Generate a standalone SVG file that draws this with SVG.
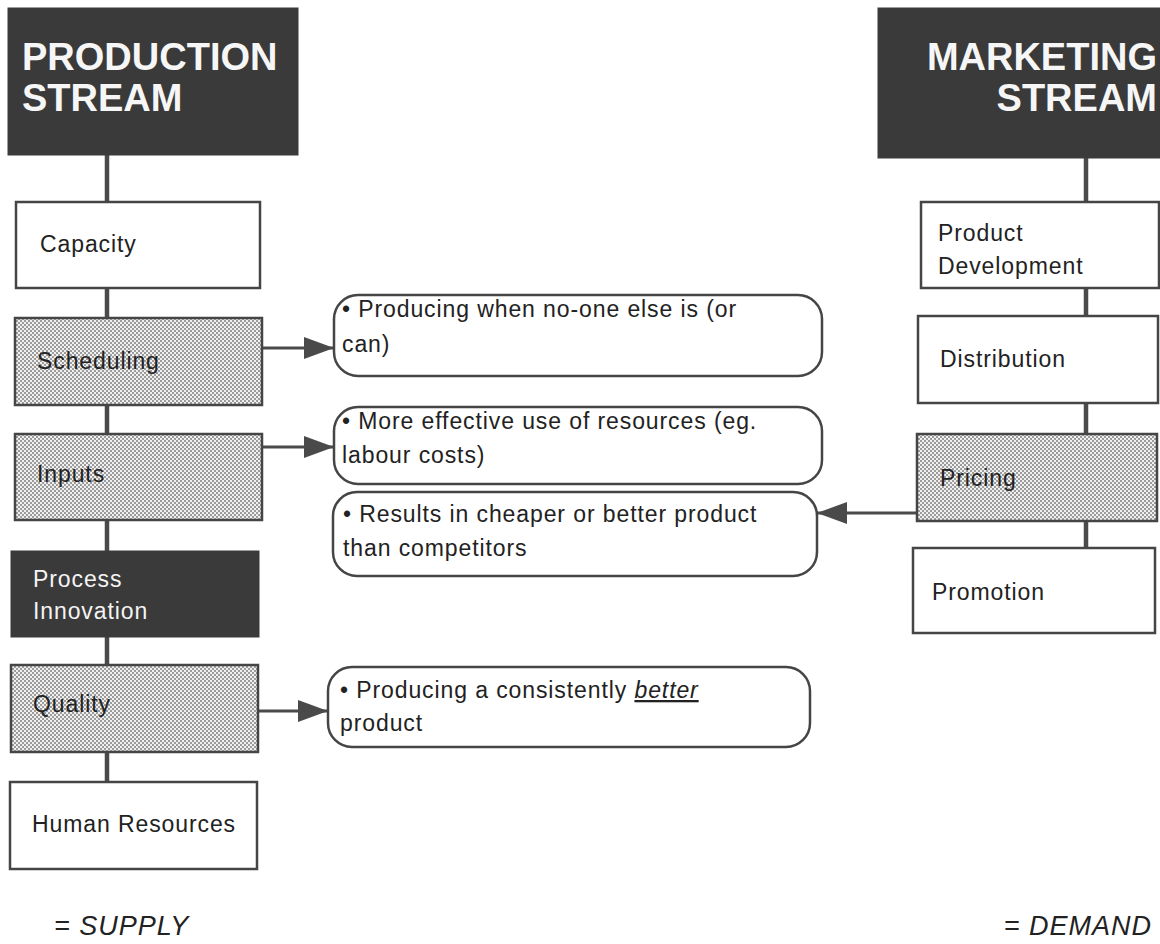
<svg xmlns="http://www.w3.org/2000/svg" width="1160" height="944" viewBox="0 0 1160 944">
  <style>
    .box { fill: #ffffff; stroke: #454545; stroke-width: 2.5; }
    .dot { fill: url(#dots); stroke: #454545; stroke-width: 2.5; }
    .dark { fill: #3a3a3a; stroke: #3a3a3a; stroke-width: 1; }
    .call { fill: #ffffff; stroke: #454545; stroke-width: 2.5; }
    .t { font-family: "Liberation Sans", Arial, Helvetica, sans-serif; font-size: 23px; letter-spacing: 0.9px; fill: #222222; }
    .tw { font-family: "Liberation Sans", Arial, Helvetica, sans-serif; font-size: 23px; letter-spacing: 0.9px; fill: #f4f4f4; }
    .head { font-family: "Liberation Sans", Arial, Helvetica, sans-serif; font-size: 38px; font-weight: bold; fill: #f6f6f6; }
    .stem { stroke: #4a4a4a; stroke-width: 4.5; fill: none; }
    .arr { stroke: #4a4a4a; stroke-width: 3; fill: none; marker-end: url(#ah); }
    .legend { font-family: "Liberation Sans", Arial, Helvetica, sans-serif; font-size: 27px; font-style: italic; letter-spacing: 1px; fill: #222222; }
  </style>
  <defs>
    <pattern id="dots" width="4" height="4" patternUnits="userSpaceOnUse">
      <rect width="4" height="4" fill="#f0f0f0"/>
      <rect x="0" y="0" width="2" height="2" fill="#9c9c9c"/>
      <rect x="2" y="2" width="2" height="2" fill="#9c9c9c"/>
    </pattern>
    <marker id="ah" viewBox="0 0 30 22" refX="30" refY="11" markerWidth="30" markerHeight="22" markerUnits="userSpaceOnUse" orient="auto">
      <path d="M0,0 L30,11 L0,22 Z" fill="#4a4a4a"/>
    </marker>
  </defs>

  <g id="connectors">
    <line class="stem" x1="107" y1="155" x2="107" y2="782"/>
    <line class="stem" x1="1086" y1="158" x2="1086" y2="548"/>
    <line class="arr" x1="262" y1="348" x2="334" y2="348"/>
    <line class="arr" x1="262" y1="447" x2="334" y2="447"/>
    <line class="arr" x1="917" y1="513" x2="817" y2="513"/>
    <line class="arr" x1="258" y1="711" x2="328" y2="711"/>
  </g>

  <g id="production-stream">
    <rect class="dark" x="8" y="8" width="290" height="147"/>
    <text class="head" x="22" y="70">PRODUCTION</text>
    <text class="head" x="22" y="111">STREAM</text>
  </g>
  <g id="capacity">
    <rect class="box" x="16" y="202" width="244" height="86"/>
    <text class="t" x="40" y="252">Capacity</text>
  </g>
  <g id="scheduling">
    <rect class="dot" x="15" y="318" width="247" height="87"/>
    <text class="t" x="37" y="369">Scheduling</text>
  </g>
  <g id="inputs">
    <rect class="dot" x="15" y="434" width="247" height="86"/>
    <text class="t" x="37" y="482">Inputs</text>
  </g>
  <g id="process-innovation">
    <rect class="dark" x="11" y="551" width="248" height="86"/>
    <text class="tw" x="33" y="587">Process</text>
    <text class="tw" x="33" y="619">Innovation</text>
  </g>
  <g id="quality">
    <rect class="dot" x="11" y="665" width="247" height="87"/>
    <text class="t" x="33" y="712">Quality</text>
  </g>
  <g id="human-resources">
    <rect class="box" x="10" y="782" width="247" height="87"/>
    <text class="t" x="32" y="832">Human Resources</text>
  </g>

  <g id="marketing-stream">
    <rect class="dark" x="878" y="8" width="290" height="150"/>
    <text class="head" x="1157" y="70" text-anchor="end">MARKETING</text>
    <text class="head" x="1157" y="111" text-anchor="end">STREAM</text>
  </g>
  <g id="product-development">
    <rect class="box" x="921" y="202" width="238" height="86"/>
    <text class="t" x="938" y="241">Product</text>
    <text class="t" x="938" y="274">Development</text>
  </g>
  <g id="distribution">
    <rect class="box" x="918" y="316" width="240" height="87"/>
    <text class="t" x="940" y="367">Distribution</text>
  </g>
  <g id="pricing">
    <rect class="dot" x="917" y="434" width="240" height="87"/>
    <text class="t" x="940" y="486">Pricing</text>
  </g>
  <g id="promotion">
    <rect class="box" x="913" y="548" width="242" height="85"/>
    <text class="t" x="932" y="600">Promotion</text>
  </g>

  <g id="callout-scheduling">
    <rect class="call" x="334" y="295" width="488" height="81" rx="24" ry="24"/>
    <text class="t" x="342" y="317">• Producing when no-one else is (or</text>
    <text class="t" x="342" y="352">can)</text>
  </g>
  <g id="callout-inputs">
    <rect class="call" x="334" y="407" width="488" height="77" rx="24" ry="24"/>
    <text class="t" x="342" y="429">• More effective use of resources (eg.</text>
    <text class="t" x="342" y="463">labour costs)</text>
  </g>
  <g id="callout-pricing">
    <rect class="call" x="333" y="492" width="484" height="84" rx="24" ry="24"/>
    <text class="t" x="343" y="522">• Results in cheaper or better product</text>
    <text class="t" x="343" y="556">than competitors</text>
  </g>
  <g id="callout-quality">
    <rect class="call" x="328" y="667" width="482" height="80" rx="24" ry="24"/>
    <text class="t" x="340" y="698">• Producing a consistently <tspan font-style="italic" text-decoration="underline">better</tspan></text>
    <text class="t" x="340" y="731">product</text>
  </g>

  <g id="legend">
    <text class="legend" x="54" y="935">= SUPPLY</text>
    <text class="legend" x="1152" y="935" text-anchor="end">= DEMAND</text>
  </g>
</svg>
